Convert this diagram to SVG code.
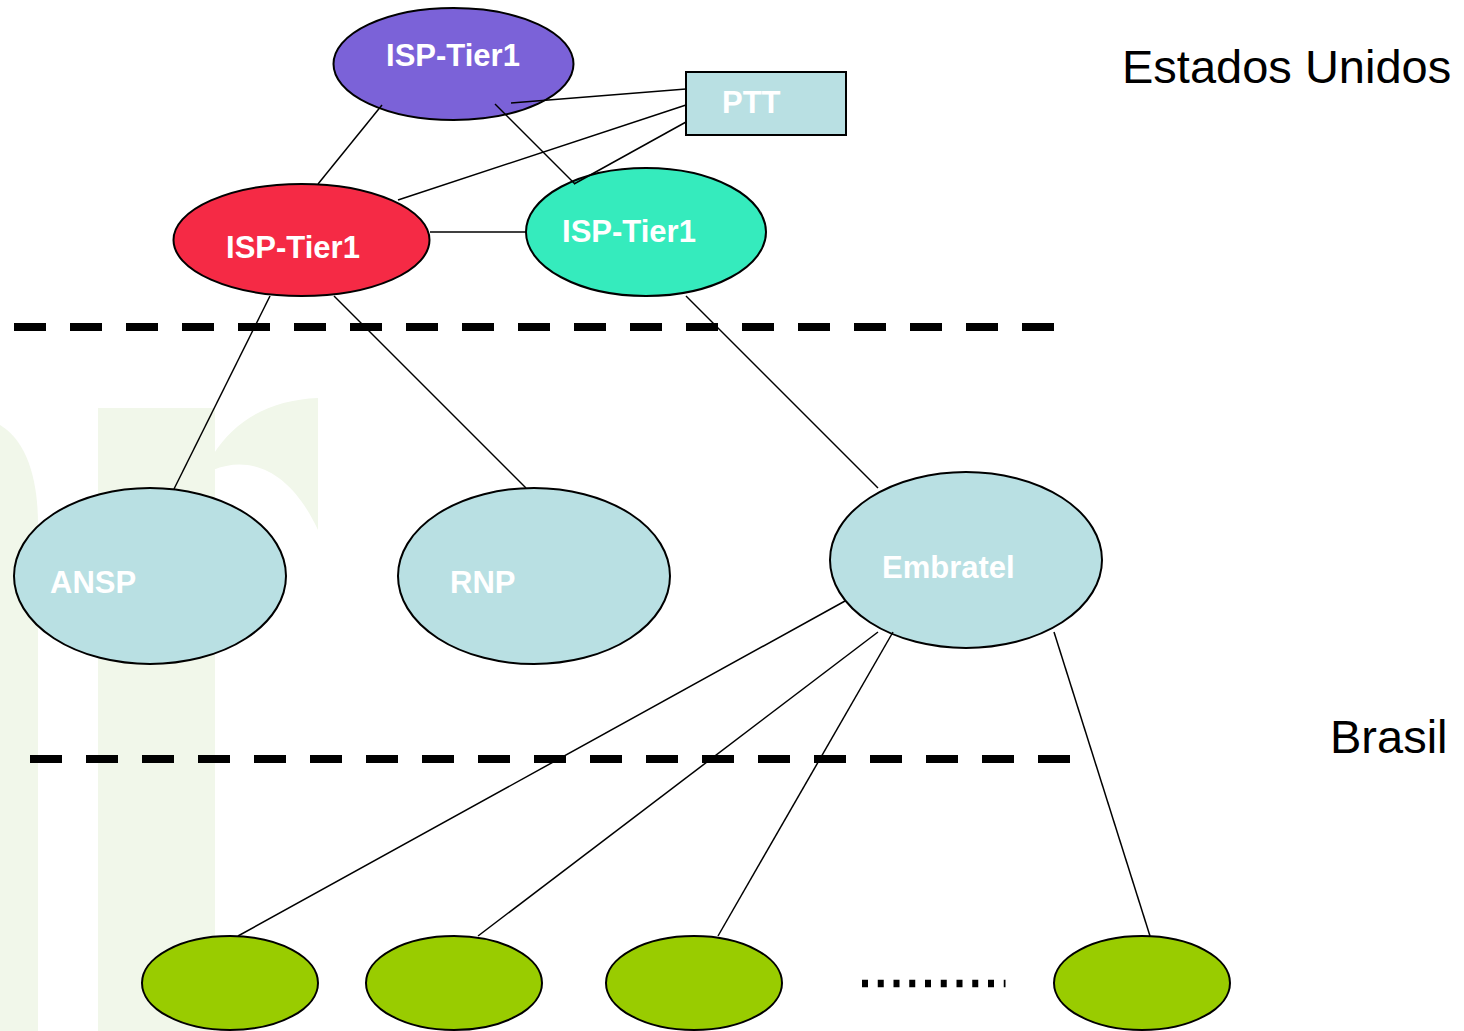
<svg xmlns="http://www.w3.org/2000/svg" width="1464" height="1031" viewBox="0 0 1464 1031">
<style>
.node{stroke:#000;stroke-width:2}
.lbl{font-family:"Liberation Sans",Arial,sans-serif;font-weight:bold;font-size:31px;fill:#fff}
.region{font-family:"Liberation Sans",Arial,sans-serif;font-size:47px;fill:#000}
.link{stroke:#000;stroke-width:1.5;fill:none}
.sep{stroke:#000;stroke-width:8;stroke-dasharray:32 24;fill:none}
.wm{fill:#f1f7ea}
</style>
<rect width="1464" height="1031" fill="#fff"/>
<g id="watermark">
<rect class="wm" x="98" y="408" width="117" height="623"/>
<path class="wm" d="M213,455 C235,420 270,400 318,398 L318,530 C290,470 250,455 213,470 Z"/>
<path class="wm" d="M0,425 C25,440 38,475 38,525 L38,1031 L0,1031 Z"/>
</g>
<g id="separators">
<line class="sep" x1="14" y1="327" x2="1054" y2="327"/>
<line class="sep" x1="30" y1="759" x2="1070" y2="759"/>
</g>
<g id="isp-us-top">
<ellipse class="node" cx="453.5" cy="64" rx="120" ry="56" fill="#7b62d8"/>
<text class="lbl" x="453" y="66" text-anchor="middle">ISP-Tier1</text>
</g>
<g id="ptt">
<rect class="node" x="686" y="72" width="160" height="63" fill="#b9e0e3"/>
<text class="lbl" x="722" y="113">PTT</text>
</g>
<g id="isp-us-left">
<ellipse class="node" cx="301.5" cy="240" rx="128" ry="56" fill="#f52a45"/>
<text class="lbl" x="293" y="258" text-anchor="middle">ISP-Tier1</text>
</g>
<g id="isp-us-right">
<ellipse class="node" cx="646" cy="232" rx="120" ry="64" fill="#35ebbd"/>
<text class="lbl" x="629" y="242" text-anchor="middle">ISP-Tier1</text>
</g>
<g id="ansp">
<ellipse class="node" cx="150" cy="576" rx="136" ry="88" fill="#b9e0e3"/>
<text class="lbl" x="50" y="593">ANSP</text>
</g>
<g id="rnp">
<ellipse class="node" cx="534" cy="576" rx="136" ry="88" fill="#b9e0e3"/>
<text class="lbl" x="450" y="593">RNP</text>
</g>
<g id="embratel">
<ellipse class="node" cx="966" cy="560" rx="136" ry="88" fill="#b9e0e3"/>
<text class="lbl" x="882" y="578">Embratel</text>
</g>
<g id="local-1"><ellipse class="node" cx="230" cy="983" rx="88" ry="47" fill="#99cc00"/></g>
<g id="local-2"><ellipse class="node" cx="454" cy="983" rx="88" ry="47" fill="#99cc00"/></g>
<g id="local-3"><ellipse class="node" cx="694" cy="983" rx="88" ry="47" fill="#99cc00"/></g>
<g id="local-n"><ellipse class="node" cx="1142" cy="983" rx="88" ry="47" fill="#99cc00"/></g>
<g id="connectors">
<line class="link" x1="382" y1="105" x2="318" y2="184"/>
<line class="link" x1="511" y1="103" x2="686" y2="89"/>
<line class="link" x1="495" y1="104" x2="575" y2="184"/>
<line class="link" x1="686" y1="105" x2="398" y2="200"/>
<line class="link" x1="686" y1="122" x2="574" y2="184"/>
<line class="link" x1="430" y1="232" x2="526" y2="232"/>
<line class="link" x1="270" y1="296" x2="174" y2="489"/>
<line class="link" x1="334" y1="296" x2="526" y2="488"/>
<line class="link" x1="686" y1="296" x2="878" y2="488"/>
<line class="link" x1="845" y1="601" x2="238" y2="936"/>
<line class="link" x1="878" y1="632" x2="478" y2="936"/>
<line class="link" x1="893" y1="632" x2="718" y2="936"/>
<line class="link" x1="1054" y1="632" x2="1150" y2="936"/>
</g>
<g id="ellipsis">
<line x1="862" y1="983.5" x2="1005.5" y2="983.5" stroke="#000" stroke-width="7.5" stroke-dasharray="6 9.75"/>
</g>
<g id="labels">
<text class="region" x="1122" y="83">Estados Unidos</text>
<text class="region" x="1330" y="753">Brasil</text>
</g>
</svg>
